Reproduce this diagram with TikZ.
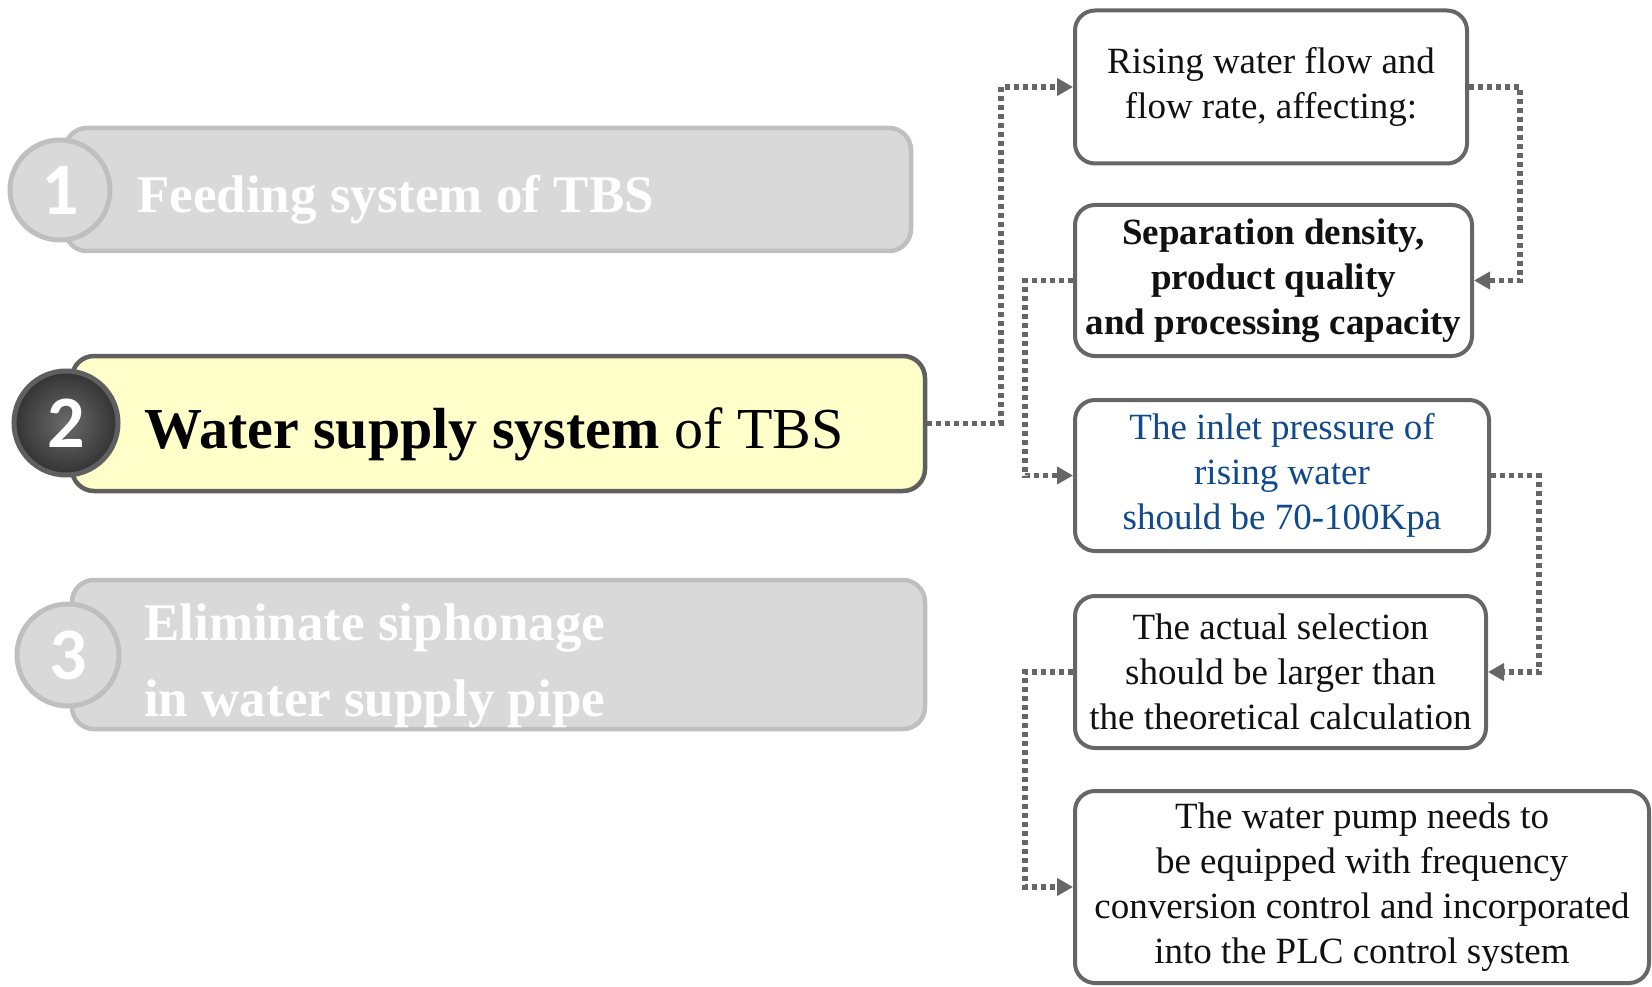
\documentclass[tikz,border=0pt]{standalone}
\usepackage{fontspec}
\setmainfont{Liberation Serif}
\newfontfamily\digitfont{Carlito}
\usetikzlibrary{arrows.meta}
\definecolor{boxline}{HTML}{666666}
\definecolor{fadefill}{HTML}{D9D9D9}
\definecolor{fadeline}{HTML}{BFBFBF}
\definecolor{activefill}{HTML}{FFFFCA}
\definecolor{activeline}{HTML}{5F5F5F}
\definecolor{bluetext}{HTML}{114A8C}
\definecolor{txt}{HTML}{111111}
\tikzset{
  infobox/.style={draw=boxline, line width=4pt, rounded corners=20pt, fill=white,
    inner sep=0pt, align=center, text=txt, font=\fontsize{37}{45}\selectfont,
    execute at begin node={\rule{0pt}{0pt}\\[-37pt]}},
  bar/.style={line width=4.5pt, rounded corners=22pt, inner sep=0pt},
  fadebar/.style={bar, draw=fadeline, fill=fadefill},
  activebar/.style={bar, draw=activeline, fill=activefill},
  numcircle/.style={circle, inner sep=0pt, line width=5pt, text=white,
    font=\digitfont\bfseries\fontsize{74}{74}\selectfont},
  fadecircle/.style={numcircle, draw=fadeline, fill=fadefill},
  activecircle/.style={numcircle, draw=activeline, inner color=black!58, outer color=black!80},
  bartext/.style={anchor=base west, inner sep=0pt, font=\fontsize{53}{60}\selectfont},
  conn/.style={draw=boxline, line width=5.5pt, dash pattern=on 5pt off 4pt,
    -{Triangle[length=16pt,width=17pt]}}
}
\begin{document}
\begin{tikzpicture}[x=1pt,y=-1pt]
\useasboundingbox (0,0) rectangle (1652,987);

% left bars
\node[fadebar, minimum width=846pt, minimum height=123pt] (bar1) at (488,189.5) {};
\node[activebar, minimum width=853pt, minimum height=135pt] (bar2) at (498.5,423.5) {};
\node[fadebar, minimum width=853pt, minimum height=149pt] (bar3) at (498.5,654.5) {};

\node[fadecircle, minimum size=100pt] (c1) at (60,190) {1};
\node[activecircle, minimum size=104pt] (c2) at (66,423) {2};
\node[fadecircle, minimum size=102pt] (c3) at (68,655) {3};

\node[bartext, text=white] (t1) at (137,213) {\bfseries Feeding system of TBS};
\node[bartext, text=black, font=\fontsize{58}{64}\selectfont] (t2) at (144,448) {\bfseries Water supply system\mdseries{} of TBS};
\node[bartext, text=white] (t3a) at (144,640) {\bfseries Eliminate siphonage};
\node[bartext, text=white] (t3b) at (144,716) {\bfseries in water supply pipe};

% right boxes
\node[infobox, minimum width=392pt, minimum height=153pt] (r1) at (1271,87)
  {Rising water flow and\\flow rate, affecting:};
\node[infobox, minimum width=397pt, minimum height=151pt, font=\fontsize{37}{45}\selectfont\bfseries] (r2) at (1273.5,280.5)
  {Separation density,\\product quality\\and processing capacity};
\node[infobox, minimum width=414pt, minimum height=151pt, text=bluetext] (r3) at (1282,475.5)
  {The inlet pressure of\\rising water\\should be 70-100Kpa};
\node[infobox, minimum width=411pt, minimum height=152pt] (r4) at (1280.5,672)
  {The actual selection\\should be larger than\\the theoretical calculation};
\node[infobox, minimum width=574pt, minimum height=192pt] (r5) at (1362,887)
  {The water pump needs to\\be equipped with frequency\\conversion control and incorporated\\into the PLC control system};

% junction columns
\coordinate (j1) at (1001,0);
\coordinate (j2) at (1520,0);
\coordinate (j3) at (1025,0);
\coordinate (j4) at (1539,0);

\draw[conn] (bar2.east) -- (bar2.east -| j1) |- (r1.west);
\draw[conn] (r1.east) -- (r1.east -| j2) |- (r2.east);
\draw[conn] (r2.west) -- (r2.west -| j3) |- (r3.west);
\draw[conn] (r3.east) -- (r3.east -| j4) |- (r4.east);
\draw[conn] (r4.west) -- (r4.west -| j3) |- (r5.west);
\end{tikzpicture}
\end{document}
